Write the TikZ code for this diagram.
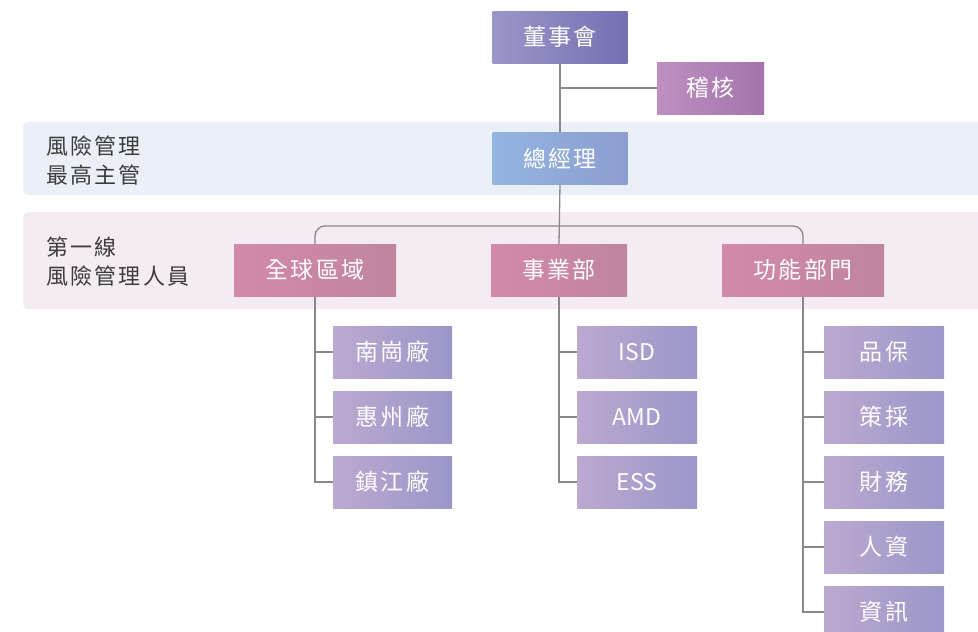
\documentclass[tikz,border=0pt]{standalone}
\usepackage{fontspec}
\setmainfont{Noto Sans CJK TC}
\newfontfamily\spacedfont[LetterSpace=10]{Noto Sans CJK TC}
\pgfdeclarelayer{bands}
\pgfdeclarelayer{lines}
\pgfsetlayers{bands,lines,main}
\definecolor{bandblue}{RGB}{235,239,248}
\definecolor{bandpink}{RGB}{245,235,243}
\definecolor{lin}{RGB}{135,135,140}
\definecolor{labtxt}{RGB}{60,60,60}
\tikzset{
  box/.style={minimum height=52pt, inner sep=0pt, text=white, font=\spacedfont\fontsize{23}{27}\selectfont},
  boardbox/.style={box, left color={rgb,255:red,155;green,150;blue,200}, right color={rgb,255:red,115;green,112;blue,178}},
  auditbox/.style={box, left color={rgb,255:red,190;green,143;blue,191}, right color={rgb,255:red,163;green,116;blue,172}},
  gmbox/.style={box, left color={rgb,255:red,147;green,181;blue,224}, right color={rgb,255:red,140;green,157;blue,207}},
  unitbox/.style={box, minimum width=162pt, left color={rgb,255:red,212;green,137;blue,170}, right color={rgb,255:red,191;green,133;blue,158}},
  childbox/.style={box, minimum width=120pt, left color={rgb,255:red,188;green,169;blue,208}, right color={rgb,255:red,154;green,151;blue,201}},
  latinbox/.style={childbox, font=\rmfamily\fontsize{23}{27}\selectfont},
  conn/.style={draw=lin, line width=1.3pt},
  bandlabel/.style={anchor=west, align=left, text=labtxt, inner sep=0pt, font=\spacedfont\fontsize{22}{29}\selectfont}
}
\begin{document}
\begin{tikzpicture}[x=1pt,y=-1pt]
\useasboundingbox (0,0) rectangle (978,632);
\clip (0,0) rectangle (978,632);
% nodes
\node[boardbox, minimum width=135pt] (board) at (560,37) {董事會};
\node[auditbox, minimum width=107pt] (audit) at (710.5,88) {稽核};
\node[gmbox, minimum width=135pt] (gm) at (560,158) {總經理};
\node[unitbox] (glob) at (315,270) {全球區域};
\node[unitbox, minimum width=136pt] (bu) at (559,270) {事業部};
\node[unitbox] (func) at (803,270) {功能部門};
\node[childbox, minimum width=119pt] (g1) at (392.5,352) {南崗廠};
\node[childbox, minimum width=119pt] (g2) at (392.5,417) {惠州廠};
\node[childbox, minimum width=119pt] (g3) at (392.5,482) {鎮江廠};
\node[latinbox] (b1) at (637,352) {ISD};
\node[latinbox] (b2) at (637,417) {AMD};
\node[latinbox] (b3) at (637,482) {ESS};
\node[childbox] (f1) at (884,352) {品保};
\node[childbox] (f2) at (884,417) {策採};
\node[childbox] (f3) at (884,482) {財務};
\node[childbox] (f4) at (884,547) {人資};
\node[childbox] (f5) at (884,612) {資訊};
\node[bandlabel] (lab1) at (46,160.5) {風險管理\\最高主管};
\node[bandlabel] (lab2) at (46,262) {第一線\\風險管理人員};
\coordinate (bar) at (559,226);
\begin{pgfonlayer}{bands}
\fill[bandblue, rounded corners=5pt] (23,122) rectangle (1000,195);
\fill[bandpink, rounded corners=5pt] (23,212) rectangle (1000,309);
\end{pgfonlayer}
\begin{pgfonlayer}{lines}
\draw[conn] (board.south) -- (gm.north);
\draw[conn] (board.south |- audit.west) -- (audit.west);
\draw[conn] (gm.south) -- (bu.north);
\draw[conn, rounded corners=10pt] (glob.north) |- (bar) -| (func.north);
\draw[conn] (glob.south) |- (g3.west);
\draw[conn] (glob.south |- g1.west) -- (g1.west);
\draw[conn] (glob.south |- g2.west) -- (g2.west);
\draw[conn] (bu.south) |- (b3.west);
\draw[conn] (bu.south |- b1.west) -- (b1.west);
\draw[conn] (bu.south |- b2.west) -- (b2.west);
\draw[conn] (func.south) |- (f5.west);
\draw[conn] (func.south |- f1.west) -- (f1.west);
\draw[conn] (func.south |- f2.west) -- (f2.west);
\draw[conn] (func.south |- f3.west) -- (f3.west);
\draw[conn] (func.south |- f4.west) -- (f4.west);
\end{pgfonlayer}
\end{tikzpicture}
\end{document}
